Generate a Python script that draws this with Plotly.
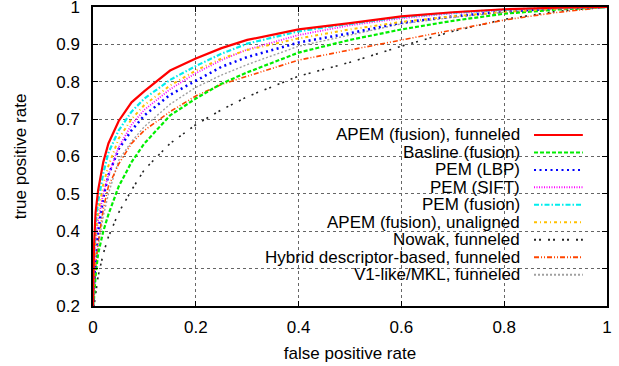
import plotly.graph_objects as go

fpr = [0, 0.002, 0.005, 0.01, 0.02, 0.03, 0.05, 0.075, 0.1, 0.15, 0.2, 0.25, 0.3, 0.4, 0.5, 0.6, 0.7, 0.8, 0.9, 1.0]

series_names = [
    "APEM (fusion), funneled",
    "Basline (fusion)",
    "PEM (LBP)",
    "PEM (SIFT)",
    "PEM (fusion)",
    "APEM (fusion), unaligned",
    "Nowak, funneled",
    "Hybrid descriptor-based, funneled",
    "V1-like/MKL, funneled",
]

tpr_apem_funneled = [0.2, 0.36, 0.45, 0.51, 0.585, 0.635, 0.695, 0.745, 0.775, 0.83, 0.862, 0.89, 0.912, 0.94, 0.957, 0.975, 0.986, 0.994, 0.998, 1.0]
tpr_baseline = [0.2, 0.22, 0.28, 0.34, 0.40, 0.445, 0.52, 0.585, 0.635, 0.71, 0.755, 0.795, 0.825, 0.878, 0.912, 0.94, 0.963, 0.982, 0.993, 1.0]
tpr_pem_lbp = [0.2, 0.27, 0.34, 0.40, 0.49, 0.55, 0.62, 0.67, 0.71, 0.765, 0.802, 0.84, 0.866, 0.905, 0.93, 0.958, 0.975, 0.988, 0.996, 1.0]
tpr_pem_sift = [0.2, 0.29, 0.37, 0.43, 0.50, 0.55, 0.625, 0.685, 0.725, 0.78, 0.823, 0.858, 0.886, 0.925, 0.951, 0.97, 0.983, 0.992, 0.997, 1.0]
tpr_pem_fusion = [0.2, 0.33, 0.42, 0.48, 0.555, 0.61, 0.67, 0.72, 0.755, 0.805, 0.842, 0.875, 0.902, 0.935, 0.955, 0.973, 0.985, 0.993, 0.998, 1.0]
tpr_apem_unaligned = [0.2, 0.30, 0.39, 0.45, 0.525, 0.575, 0.648, 0.70, 0.738, 0.79, 0.83, 0.862, 0.885, 0.916, 0.94, 0.96, 0.975, 0.987, 0.995, 1.0]
tpr_nowak = [0.2, 0.20, 0.23, 0.28, 0.34, 0.385, 0.45, 0.51, 0.565, 0.635, 0.685, 0.725, 0.76, 0.815, 0.852, 0.895, 0.935, 0.967, 0.988, 1.0]
tpr_hybrid = [0.2, 0.25, 0.31, 0.37, 0.46, 0.52, 0.58, 0.635, 0.67, 0.72, 0.762, 0.793, 0.815, 0.858, 0.885, 0.912, 0.94, 0.965, 0.985, 1.0]
tpr_v1_mkl = [0.2, 0.24, 0.30, 0.36, 0.44, 0.50, 0.59, 0.64, 0.68, 0.74, 0.785, 0.818, 0.846, 0.895, 0.925, 0.955, 0.972, 0.986, 0.995, 1.0]

series_values = [tpr_apem_funneled, tpr_baseline, tpr_pem_lbp, tpr_pem_sift, tpr_pem_fusion,
                 tpr_apem_unaligned, tpr_nowak, tpr_hybrid, tpr_v1_mkl]

x_ticks = [0, 0.2, 0.4, 0.6, 0.8, 1]
x_tick_labels = ["0", "0.2", "0.4", "0.6", "0.8", "1"]
y_ticks = [0.2, 0.3, 0.4, 0.5, 0.6, 0.7, 0.8, 0.9, 1.0]
y_tick_labels = ["0.2", "0.3", "0.4", "0.5", "0.6", "0.7", "0.8", "0.9", "1"]

colors = ["#ff0000", "#00ee00", "#0000ff", "#ff00ff", "#00eeee", "#ffc000", "#222222", "#ff4500", "#a0a0a0"]
dashes = ["solid", "4px,2px", "2px,3.5px", "1px,1.5px", "5px,2px,1.5px,2px", "3px,3px,1px,3px",
          "2px,3px,2px,7px", "5px,2px,1px,2px,1px,2px", "2px,2px"]
widths = [2.2, 2.2, 2.5, 1.8, 2.2, 2.0, 1.6, 1.6, 1.4]

FONT = "Liberation Sans, Arial, sans-serif"

fig = go.Figure()
# draw lower-ranked curves first so the top curve stays visible
order = [6, 8, 7, 1, 2, 3, 5, 4, 0]
for i in order:
    fig.add_trace(go.Scatter(
        x=fpr, y=series_values[i], mode="lines", name=series_names[i],
        line=dict(color=colors[i], dash=dashes[i], width=widths[i]),
        showlegend=False,
    ))

# opaque key box (hides grid behind the key, as in gnuplot)
fig.add_shape(type="rect", xref="paper", yref="paper", x0=0.165, x1=1.0, y0=0.0, y1=0.602,
              fillcolor="white", line=dict(width=0), layer="between")

# manual key: text right-aligned, sample line on the right
row0 = 0.572
row_step = 0.0584
for k, name in enumerate(series_names):
    yk = row0 - k * row_step
    fig.add_annotation(x=0.8346, y=yk, xref="paper", yref="paper", text=name, showarrow=False,
                       xanchor="right", yanchor="middle", font=dict(family=FONT, size=17, color="black"))
    fig.add_shape(type="line", xref="paper", yref="paper", x0=0.858, x1=0.953, y0=yk, y1=yk,
                  line=dict(color=colors[k], dash=dashes[k], width=2))

axis_common = dict(
    showline=True, linecolor="black", linewidth=1.5, mirror="allticks",
    ticks="inside", ticklen=5, tickcolor="black", tickwidth=1,
    showgrid=True, gridcolor="#666666", griddash="dot", gridwidth=1,
    zeroline=False, tickfont=dict(family=FONT, size=17, color="black"),
    automargin=False, ticklabeloverflow="allow",
)

fig.update_xaxes(range=[0, 1], tickvals=x_ticks, ticktext=x_tick_labels,
                 title=dict(text="false positive rate", font=dict(family=FONT, size=17, color="black"), standoff=11),
                 ticklabelstandoff=5, **axis_common)
fig.update_yaxes(range=[0.2, 1], tickvals=y_ticks, ticktext=y_tick_labels,
                 title=dict(text="true positive rate", font=dict(family=FONT, size=17, color="black"), standoff=25),
                 ticklabelstandoff=8, **axis_common)

fig.update_layout(
    width=619, height=366,
    margin=dict(l=93, r=12, t=7, b=60),
    paper_bgcolor="white", plot_bgcolor="white",
    font=dict(family=FONT, size=17, color="black"),
)

fig.write_html("out.html", config={"displayModeBar": False},
               post_script="document.body.style.margin='0px';")
